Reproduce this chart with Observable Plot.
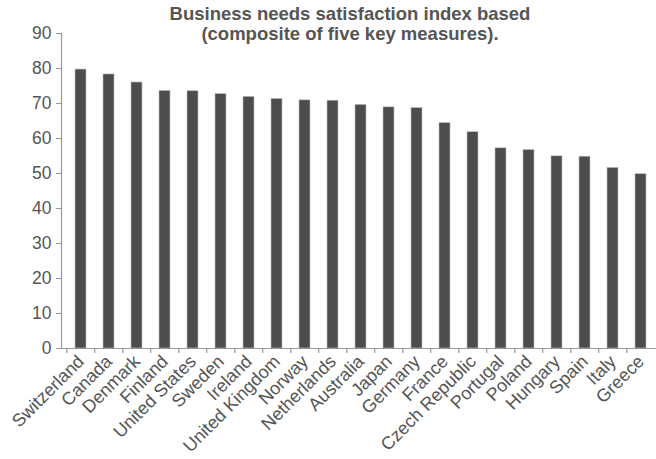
<!DOCTYPE html>
<html>
<head>
<meta charset="utf-8">
<script src="https://cdn.jsdelivr.net/npm/d3@7"></script>
<script src="https://cdn.jsdelivr.net/npm/@observablehq/plot@0.6"></script>
<style>
  html, body { margin: 0; padding: 0; background: #fff; overflow: hidden; }
  #wrap { position: relative; width: 656px; height: 459px; font-family: "Liberation Sans", Arial, sans-serif; }
  #title { position: absolute; left: 0; width: 700px; top: 4px; text-align: center; font-weight: bold; font-size: 18.5px; line-height: 20px; color: #555; z-index: 2; }
  #wrap svg { position: absolute; left: 0; top: 0; }
  #wrap svg g[aria-label="y-axis tick label"] text { font-size: 17.5px !important; }
  #wrap svg g[aria-label="x-axis tick label"] text { font-size: 18px !important; }
</style>
</head>
<body>
<div id="wrap">
  <div id="title">Business needs satisfaction index based<br>(composite of five key measures).</div>
</div>
<script>
const countries = ["Switzerland","Canada","Denmark","Finland","United States","Sweden","Ireland","United Kingdom","Norway","Netherlands","Australia","Japan","Germany","France","Czech Republic","Portugal","Poland","Hungary","Spain","Italy","Greece"];
const values = [79.7,78.3,76.0,73.6,73.5,72.7,71.9,71.3,70.9,70.8,69.6,68.9,68.7,64.4,61.8,57.2,56.7,54.9,54.8,51.6,49.8];
const yTicks = [0,10,20,30,40,50,60,70,80,90];

const data = countries.map((c, i) => ({country: c, value: values[i]}));

const W = 656, H = 459, mL = 61, mR = -4, mT = 33, mB = 111;
const step = (W - mL - mR) / countries.length;
const textColor = "#555";
const axisColor = "#999";

const chart = Plot.plot({
  width: W,
  height: H,
  marginLeft: mL,
  marginRight: mR,
  marginTop: mT,
  marginBottom: mB,
  style: {fontFamily: '"Liberation Sans", Arial, sans-serif', fontSize: "17.5px", color: textColor, background: "transparent", overflow: "visible"},
  x: {domain: countries, paddingInner: 0.6, paddingOuter: 0.3},
  y: {domain: [0, 90]},
  marks: [
    Plot.barY(data, {x: "country", y: "value", fill: "#4d4d4d", stroke: "#bdbdbd", strokeWidth: 0.6}),
    Plot.frame({anchor: "left", stroke: axisColor, strokeWidth: 1.2}),
    Plot.ruleY([0], {stroke: axisColor, strokeWidth: 1.2}),
    Plot.ruleX(countries, {x: d => d, dx: -step / 2, y1: 0, y2: 0, insetBottom: -5, stroke: axisColor, strokeWidth: 1.2}),
    Plot.axisY({ticks: yTicks, tickSize: 5, tickPadding: 5, stroke: axisColor, fill: textColor, fontSize: 17.5, label: null}),
    Plot.axisX({tickSize: 0, tickRotate: -45, tickPadding: 10, dx: 0, fill: textColor, fontSize: 18, label: null})
  ]
});
document.getElementById("wrap").appendChild(chart);
</script>
</body>
</html>
